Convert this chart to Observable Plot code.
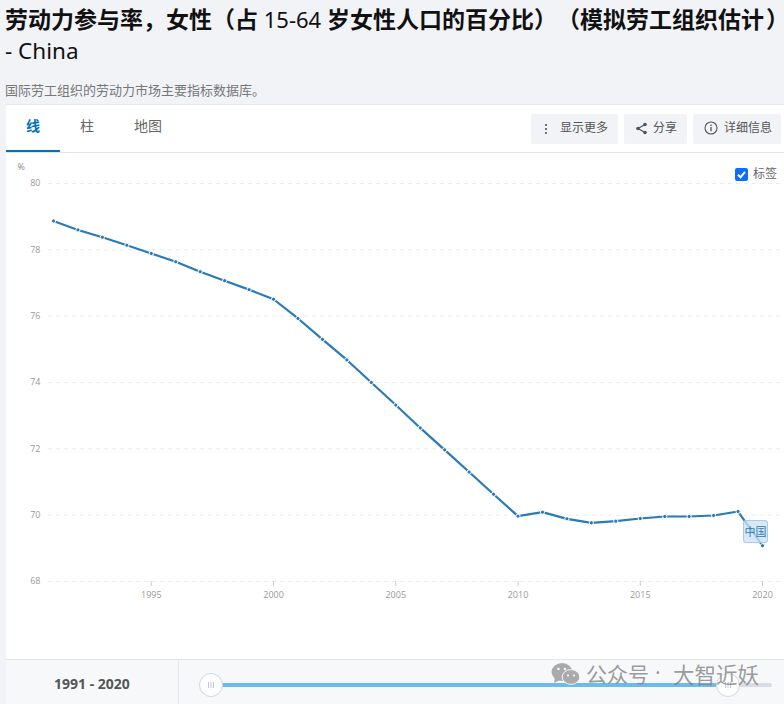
<!DOCTYPE html>
<html lang="zh">
<head>
<meta charset="utf-8">
<script src="https://cdn.jsdelivr.net/npm/d3@7"></script>
<script src="https://cdn.jsdelivr.net/npm/@observablehq/plot@0.6"></script>
<style>
html,body{margin:0;padding:0;width:784px;height:704px;overflow:hidden;background:#f1f3f7;font-family:"Noto Sans","Noto Sans CJK SC",sans-serif;}
.a{position:absolute;white-space:nowrap;}
.cjk{font-family:"Noto Sans CJK SC";font-weight:700;font-feature-settings:"chws" 0,"palt" 0,"halt" 0;text-spacing-trim:space-all;font-size:23px;}
.btn{position:absolute;top:114px;height:30px;background:#f1f3f7;border-radius:2px;font-size:12px;color:#555;line-height:26px;}
#chart{position:absolute;left:0;top:153px;}
#chart svg{display:block;background:transparent;}
.tab{position:absolute;top:115px;font-size:14px;color:#666;font-family:"Noto Sans CJK SC";}
.thumb{position:absolute;top:673px;width:22px;height:22px;border-radius:50%;background:#fff;border:1px solid #d0d5dc;}
</style>
</head>
<body>
<div class="a" style="left:5px;top:2px;font-size:22px;line-height:32px;color:#111;width:779px;overflow:visible;"><span class="cjk">劳动力参与率，女性（占</span> 15-64 <span class="cjk">岁女性人口的百分比）（模拟劳工组织估<span style="letter-spacing:2px">计</span><span style="letter-spacing:-9px">）</span></span></div>
<div class="a" style="left:5px;top:35px;font-size:22.5px;line-height:32px;color:#111;">- China</div>
<div class="a" style="left:5px;top:80px;font-size:13px;color:#777;font-family:'Noto Sans CJK SC';">国际劳工组织的劳动力市场主要指标数据库。</div>

<div class="a" style="left:6px;top:105px;width:778px;height:599px;background:#fff;"></div>
<div class="a" style="left:6px;top:104px;width:778px;height:1px;background:#e6e9ee;"></div>
<div class="a" style="left:6px;top:152px;width:778px;height:1px;background:#e3e7ec;"></div>
<div class="a" style="left:6px;top:150px;width:54px;height:2px;background:#0071bc;"></div>
<div class="tab" style="left:26px;color:#0071bc;font-weight:700;">线</div>
<div class="tab" style="left:80px;">柱</div>
<div class="tab" style="left:134px;">地图</div>

<div class="btn" style="left:531px;width:87px;"><svg class="a" style="left:13px;top:9px" width="4" height="12" viewBox="0 0 4 12"><circle cx="2" cy="2" r="1.1" fill="#555"/><circle cx="2" cy="6" r="1.1" fill="#555"/><circle cx="2" cy="10" r="1.1" fill="#555"/></svg><span class="a" style="left:29px;top:0;font-family:'Noto Sans CJK SC'">显示更多</span></div>
<div class="btn" style="left:624px;width:63px;"><svg class="a" style="left:11px;top:8px" width="13" height="13" viewBox="0 0 13 13"><path d="M10 2.5L3 6.5L10 10.5" fill="none" stroke="#555" stroke-width="1.2"/><circle cx="10" cy="2.5" r="1.8" fill="#555"/><circle cx="3" cy="6.5" r="1.8" fill="#555"/><circle cx="10" cy="10.5" r="1.8" fill="#555"/></svg><span class="a" style="left:29px;top:0;font-family:'Noto Sans CJK SC'">分享</span></div>
<div class="btn" style="left:693px;width:88px;"><svg class="a" style="left:11px;top:7px" width="14" height="14" viewBox="0 0 14 14"><circle cx="7" cy="7" r="6" fill="none" stroke="#555" stroke-width="1.1"/><path d="M7 6v4.2M7 3.6v1.3" stroke="#555" stroke-width="1.3"/></svg><span class="a" style="left:31px;top:0;font-family:'Noto Sans CJK SC'">详细信息</span></div>

<div id="chart"></div>

<div class="a" style="left:735px;top:168px;width:13px;height:13px;background:#0d6efd;border-radius:2px;"><svg width="13" height="13" viewBox="0 0 13 13" style="display:block"><path d="M3 6.8L5.5 9.3L10 3.8" fill="none" stroke="#fff" stroke-width="2"/></svg></div>
<div class="a" style="left:753px;top:164px;font-size:12px;color:#666;font-family:'Noto Sans CJK SC';">标签</div>
<div class="a" style="left:743px;top:520px;width:23px;height:21px;border:1px solid rgba(160,200,230,.85);background:rgba(205,226,243,.78);border-radius:3px;color:#2c7ab5;font-size:11px;line-height:21px;text-align:center;font-family:'Noto Sans CJK SC';">中国</div>

<div class="a" style="left:6px;top:659px;width:778px;height:45px;background:#f7f8fa;border-top:1px solid #e3e7ec;box-sizing:border-box;"></div>
<div class="a" style="left:178px;top:660px;width:1px;height:44px;background:#e3e7ec;"></div>
<div class="a" style="left:54px;top:674px;font-size:14px;font-weight:700;color:#555;">1991 - 2020</div>
<div class="a" style="left:222px;top:683px;width:494px;height:4px;background:#6bbbee;"></div>
<div class="a" style="left:738px;top:683px;width:34px;height:4px;background:#d9dde5;border-radius:2px;"></div>
<div class="thumb" style="left:199px;"><svg width="22" height="22" viewBox="0 0 22 22" style="display:block"><path d="M8.5 8v6M11 8v6M13.5 8v6" stroke="#c4c8cf" stroke-width="1"/></svg></div>
<div class="thumb" style="left:716px;"><svg width="22" height="22" viewBox="0 0 22 22" style="display:block"><path d="M8.5 8v6M11 8v6M13.5 8v6" stroke="#c4c8cf" stroke-width="1"/></svg></div>
<svg class="a" style="left:551px;top:662px" width="29" height="24" viewBox="0 0 29 24"><ellipse cx="11" cy="10" rx="10.5" ry="9" fill="#aaa"/><path d="M4 15l-1 6 6-3z" fill="#aaa"/><ellipse cx="20" cy="15" rx="8.8" ry="7.4" fill="#aaa" stroke="#f7f8fa" stroke-width="1"/><circle cx="7.5" cy="7" r="1.3" fill="#f7f8fa"/><circle cx="14" cy="7" r="1.3" fill="#f7f8fa"/><circle cx="17" cy="13.5" r="1.1" fill="#f7f8fa"/><circle cx="23" cy="13.5" r="1.1" fill="#f7f8fa"/></svg>
<div class="a" style="left:586px;top:658px;font-size:21px;color:rgba(130,130,130,.8);font-family:'Noto Sans CJK SC';">公众号</div>
<div class="a" style="left:655px;top:658px;font-size:21px;color:rgba(130,130,130,.8);font-family:'Noto Sans';">·</div>
<div class="a" style="left:673px;top:658px;font-size:21.5px;color:rgba(130,130,130,.8);font-family:'Noto Sans CJK SC';">大智近妖</div>

<script>
const years = [1991,1992,1993,1994,1995,1996,1997,1998,1999,2000,2001,2002,2003,2004,2005,2006,2007,2008,2009,2010,2011,2012,2013,2014,2015,2016,2017,2018,2019,2020];
const values = [78.87,78.6,78.38,78.14,77.89,77.64,77.34,77.07,76.8,76.51,75.93,75.3,74.68,74.0,73.32,72.63,71.97,71.3,70.63,69.97,70.09,69.89,69.77,69.82,69.9,69.96,69.96,69.99,70.11,69.08];
const xTicks = [1995,2000,2005,2010,2015,2020];
const yTicks = [68,70,72,74,76,78,80];
const yUnit = "%";

const data = years.map((year,i)=>({year,value:values[i]}));
const plot = Plot.plot({
  width:784,height:490,
  marginTop:30,marginBottom:62,marginLeft:48,marginRight:0,
  style:{background:"transparent",fontFamily:"'Open Sans',sans-serif",overflow:"visible"},
  x:{type:"linear",domain:[1991,2020],range:[53,762],label:null},
  y:{domain:[68,80],label:null},
  marks:[
    Plot.ruleY(yTicks,{stroke:"#e9ebee",strokeWidth:1,strokeDasharray:"4,4"}),
    Plot.axisX({ticks:xTicks,tickFormat:d=>String(d),tickSize:5,tickPadding:5,fontSize:9,color:"#999",stroke:"#ccc",label:null,anchor:"bottom"}),
    Plot.axisY({ticks:yTicks,tickSize:0,tickPadding:8,fontSize:9,color:"#999",label:null,anchor:"left"}),
    Plot.text([yUnit],{frameAnchor:"top-left",dx:-31,dy:-20,text:d=>d,fontSize:9,fill:"#888"}),
    Plot.line(data,{x:"year",y:"value",stroke:"#2a7ab5",strokeWidth:2.2,curve:"linear"}),
    Plot.dot(data,{x:"year",y:"value",r:2.1,fill:"#2a7ab5",stroke:"#fff",strokeWidth:1})
  ]
});
document.getElementById("chart").appendChild(plot);
</script>
</body>
</html>
